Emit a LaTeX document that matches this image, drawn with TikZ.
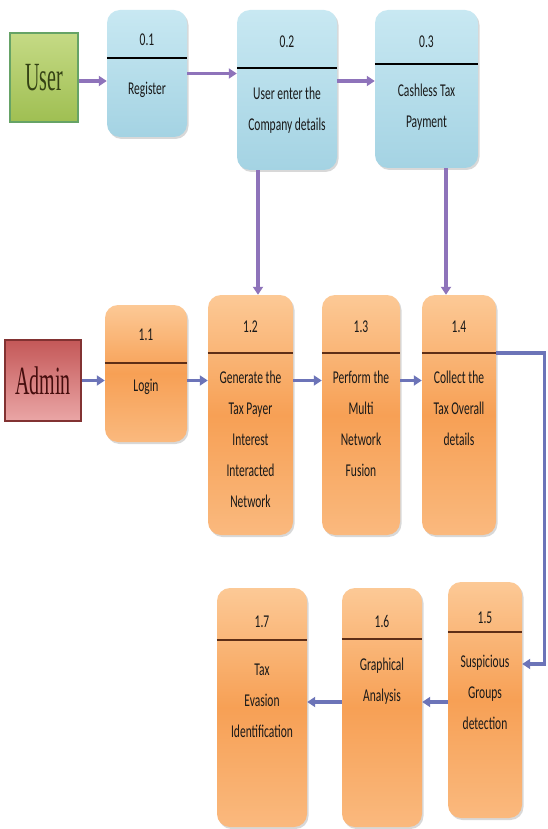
\documentclass[tikz,border=0pt]{standalone}
\usepackage{fontspec}
\newfontfamily\boxfont[FakeStretch=0.64]{Carlito}
\newfontfamily\entityfont[FakeStretch=0.5]{Liberation Serif}
\usetikzlibrary{arrows.meta,positioning,shadows}
\definecolor{bluetop}{HTML}{C8E8F2}
\definecolor{bluebot}{HTML}{A4D3E3}
\definecolor{orangetop}{HTML}{FCC996}
\definecolor{orangemid}{HTML}{F7A055}
\definecolor{orangebot}{HTML}{FAB97E}
\definecolor{flowtop}{HTML}{8E73BA}
\definecolor{flowlow}{HTML}{6C74B8}
\definecolor{rulebrown}{HTML}{5E2E16}
\tikzset{
  >={Triangle[length=8pt,width=10pt]},
  proc/.style={rectangle, rounded corners=13pt, inner sep=0pt,
    drop shadow={opacity=0.3, shadow xshift=1.5pt, shadow yshift=-2pt}},
  userproc/.style={proc, top color=bluetop, bottom color=bluebot},
  adminproc/.style={proc, top color=orangetop, bottom color=orangebot, middle color=orangemid},
  entity/.style={rectangle, inner sep=0pt, line width=1.2pt,
    font=\entityfont\fontsize{40}{40}\selectfont},
  num/.style={inner sep=0pt, text=black!90, font=\boxfont\fontsize{18}{18}\selectfont},
  txt/.style={anchor=north, align=center, inner sep=0pt, text=black!90,
    font=\boxfont\fontsize{18}{31}\selectfont},
  divider/.style={line width=1.8pt},
  flow/.style={->, line width=3.4pt, draw=flowlow},
}

\begin{document}
\begin{tikzpicture}[x=1pt, y=-1pt]
  \path[use as bounding box, fill=white] (0,0) rectangle (548,829);

  % user side
  \node[entity, draw=green!40!black!60, top color={rgb,255:red,197;green,218;blue,133},
    bottom color={rgb,255:red,159;green,191;blue,82}, text={rgb,255:red,52;green,66;blue,20},
    minimum width=68pt, minimum height=89pt] (user) at (44,77.5) {User};
  \node[userproc, minimum width=80pt, minimum height=127pt] (p01) at (147,73.5) {};
  \node[userproc, minimum width=100pt, minimum height=160pt] (p02) at (287,90) {};
  \node[userproc, minimum width=103pt, minimum height=158pt] (p03) at (426.5,89) {};

  \draw[divider] ([yshift=-48pt]p01.north west) -- ([yshift=-48pt]p01.north east);
  \draw[divider] ([yshift=-58pt]p02.north west) -- ([yshift=-58pt]p02.north east);
  \draw[divider] ([yshift=-54pt]p03.north west) -- ([yshift=-54pt]p03.north east);

  \node[num] (n01) at ([yshift=-30pt]p01.north) {0.1};
  \node[num] (n02) at ([yshift=-32pt]p02.north) {0.2};
  \node[num] (n03) at ([yshift=-32pt]p03.north) {0.3};
  \node[txt] (t01) at ([yshift=-72.5pt]p01.north) {Register};
  \node[txt] (t02) at ([yshift=-77.5pt]p02.north) {User enter the\\Company details};
  \node[txt] (t03) at ([yshift=-74.5pt]p03.north) {Cashless Tax\\Payment};

  % admin side
  \node[entity, draw={rgb,255:red,130;green,50;blue,50}, top color={rgb,255:red,196;green,88;blue,88},
    bottom color={rgb,255:red,234;green,166;blue,166}, text={rgb,255:red,70;green,14;blue,14},
    minimum width=76pt, minimum height=81pt] (admin) at (43,380.5) {Admin};
  \node[adminproc, minimum width=82pt, minimum height=137pt] (p11) at (146,373.5) {};
  \node[adminproc, minimum width=85pt, minimum height=240pt] (p12) at (250.5,415) {};
  \node[adminproc, minimum width=78pt, minimum height=240pt] (p13) at (361,415) {};
  \node[adminproc, minimum width=74pt, minimum height=240pt] (p14) at (459,415) {};
  \node[adminproc, minimum width=74pt, minimum height=236pt] (p15) at (485,700) {};
  \node[adminproc, minimum width=80pt, minimum height=239pt] (p16) at (382,707.5) {};
  \node[adminproc, minimum width=90pt, minimum height=239pt] (p17) at (262,707.5) {};

  \foreach \p/\d in {p11/58, p12/58, p13/58, p14/58, p15/50, p16/51, p17/52}
    \draw[divider, rulebrown] ([yshift=-\d pt]\p.north west) -- ([yshift=-\d pt]\p.north east);

  \node[num] (n11) at ([yshift=-30pt]p11.north) {1.1};
  \node[num] (n12) at ([yshift=-32pt]p12.north) {1.2};
  \node[num] (n13) at ([yshift=-32pt]p13.north) {1.3};
  \node[num] (n14) at ([yshift=-32pt]p14.north) {1.4};
  \node[num] (n15) at ([yshift=-36pt]p15.north) {1.5};
  \node[num] (n16) at ([yshift=-34pt]p16.north) {1.6};
  \node[num] (n17) at ([yshift=-34pt]p17.north) {1.7};
  \node[txt] (t11) at ([yshift=-74.5pt]p11.north) {Login};
  \node[txt] (t12) at ([yshift=-75.5pt]p12.north) {Generate the\\Tax Payer\\Interest\\Interacted\\Network};
  \node[txt] (t13) at ([yshift=-75.5pt]p13.north) {Perform the\\Multi\\Network\\Fusion};
  \node[txt] (t14) at ([yshift=-75.5pt]p14.north) {Collect the\\Tax Overall\\details};
  \node[txt] (t15) at ([yshift=-73.5pt]p15.north) {Suspicious\\Groups\\detection};
  \node[txt] (t16) at ([yshift=-69.5pt]p16.north) {Graphical\\Analysis};
  \node[txt] (t17) at ([yshift=-76pt]p17.north) {Tax\\Evasion\\Identification};

  % flows
  \draw[flow, draw=flowtop] ([yshift=-3.5pt]user.east) -- ([yshift=-3.5pt]user.east -| p01.west);
  \draw[flow, draw=flowtop] (p01.east) -- (p01.east -| p02.west);
  \draw[flow, draw=flowtop] ([yshift=9pt]p02.east) -- ([yshift=9pt]p02.east -| p03.west);
  \draw[flow, draw=flowtop] ([xshift=-29pt]p02.south) -- ([xshift=-29pt]p02.south |- p12.north);
  \draw[flow, draw=flowtop] ([xshift=19.5pt]p03.south) -- ([xshift=19.5pt]p03.south |- p14.north);

  \draw[flow] (admin.east) -- (admin.east -| p11.west);
  \draw[flow] (p11.east |- admin.east) -- (p12.west |- admin.east);
  \draw[flow] (p12.east |- admin.east) -- (p13.west |- admin.east);
  \draw[flow] (p13.east |- admin.east) -- (p14.west |- admin.east);
  \draw[flow] ([yshift=-58pt]p14.north east) -| ([xshift=22pt,yshift=36pt]p15.east) -- ([yshift=36pt]p15.east);
  \draw[flow] ([yshift=-2pt]p15.west) -- ([yshift=-2pt]p15.west -| p16.east);
  \draw[flow] ([yshift=-2pt]p15.west -| p16.west) -- ([yshift=-2pt]p15.west -| p17.east);
\end{tikzpicture}
\end{document}
